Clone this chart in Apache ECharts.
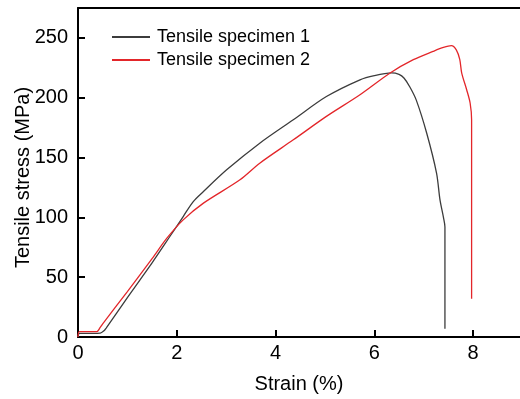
<!DOCTYPE html>
<html>
<head>
<meta charset="utf-8">
<script src="https://cdn.jsdelivr.net/npm/echarts@6/dist/echarts.min.js"></script>
<style>
  html, body { margin: 0; padding: 0; background: #fff; }
  #main { width: 520px; height: 399px; }
</style>
</head>
<body>
<div id="main"></div>
<script>
// strain (%), stress (MPa)
const specimen1 = [
  [0, 0], [0.03, 3], [0.3, 3], [0.45, 3.2], [0.52, 5], [0.57, 7.5],
  [1.0, 33], [1.5, 62], [1.86, 84], [2.13, 100.7], [2.33, 113],
  [2.54, 121.6], [3.01, 139.7], [3.68, 162], [4.36, 181.6], [5.03, 201],
  [5.71, 215], [6.0, 218.5], [6.35, 220.7], [6.5, 219.5], [6.6, 216.5],
  [6.72, 209], [6.85, 198], [7.06, 170.5], [7.26, 137], [7.33, 114.6],
  [7.4, 100], [7.43, 92], [7.43, 7]
];
const specimen2 = [
  [0, 0], [0.03, 4.5], [0.38, 4.5], [0.45, 8], [0.5, 11], [1.0, 38],
  [1.5, 65.5], [1.8, 82.6], [2.13, 97.9], [2.54, 111.9], [3.28, 131.4],
  [3.68, 145.3], [4.36, 164.8], [5.03, 184.4], [5.71, 202.5], [6.32, 220.7],
  [6.79, 231.8], [7.19, 238.7], [7.4, 242], [7.56, 243.5], [7.66, 240],
  [7.73, 232], [7.77, 220.6], [7.87, 206.7], [7.94, 195.6], [7.97, 181.6],
  [7.97, 32]
];
const seriesNames = ['Tensile specimen 1', 'Tensile specimen 2'];

const font = 'Liberation Sans, Arial, sans-serif';
let myChart = echarts.init(document.getElementById('main'));

let option = {
  animation: false,
  textStyle: { fontFamily: font },
  grid: { left: 78, right: 0, top: 8, bottom: 62, outerBoundsMode: 'none' },
  legend: {
    orient: 'vertical',
    left: 106,
    top: 23,
    itemWidth: 38,
    itemHeight: 14,
    itemGap: 5,
    itemStyle: { opacity: 0 },
    textStyle: { fontSize: 18, color: '#000', fontFamily: font, padding: [0, 0, 0, 2] },
    data: seriesNames
  },
  xAxis: [
    {
      type: 'value',
      min: 0,
      max: 8.95,
      interval: 2,
      name: 'Strain (%)',
      nameLocation: 'middle',
      nameGap: 37,
      nameMoveOverlap: false,
      nameTextStyle: { fontSize: 20, color: '#000' },
      axisLine: { lineStyle: { color: '#000', width: 2 } },
      axisTick: { inside: true, length: 7, lineStyle: { color: '#000', width: 2 } },
      axisLabel: { fontSize: 20, color: '#000', margin: 6, showMaxLabel: false },
      splitLine: { show: false }
    },
    {
      type: 'value',
      position: 'top',
      min: 0,
      max: 8.95,
      axisLine: { show: true, onZero: false, lineStyle: { color: '#000', width: 2 } },
      axisTick: { show: false },
      axisLabel: { show: false },
      splitLine: { show: false }
    }
  ],
  yAxis: {
    type: 'value',
    min: 0,
    max: 275,
    interval: 50,
    name: 'Tensile stress (MPa)',
    nameLocation: 'middle',
    nameGap: 45,
    nameMoveOverlap: false,
    nameTextStyle: { fontSize: 20, color: '#000', padding: [0, 10, 0, 0] },
    axisLine: { show: true, lineStyle: { color: '#000', width: 2 } },
    axisTick: { show: true, inside: true, length: 7, lineStyle: { color: '#000', width: 2 } },
    axisLabel: { fontSize: 20, color: '#000', margin: 10, showMaxLabel: false },
    splitLine: { show: false }
  },
  series: [
    {
      name: seriesNames[0],
      type: 'line',
      data: specimen1,
      symbol: 'none',
      smooth: 0.3,
      lineStyle: { color: '#3c3c3c', width: 1.3 },
      itemStyle: { color: '#3c3c3c' }
    },
    {
      name: seriesNames[1],
      type: 'line',
      data: specimen2,
      symbol: 'none',
      smooth: 0.3,
      lineStyle: { color: '#e3262a', width: 1.3 },
      itemStyle: { color: '#e3262a' }
    }
  ]
};

myChart.setOption(option);
</script>
</body>
</html>
